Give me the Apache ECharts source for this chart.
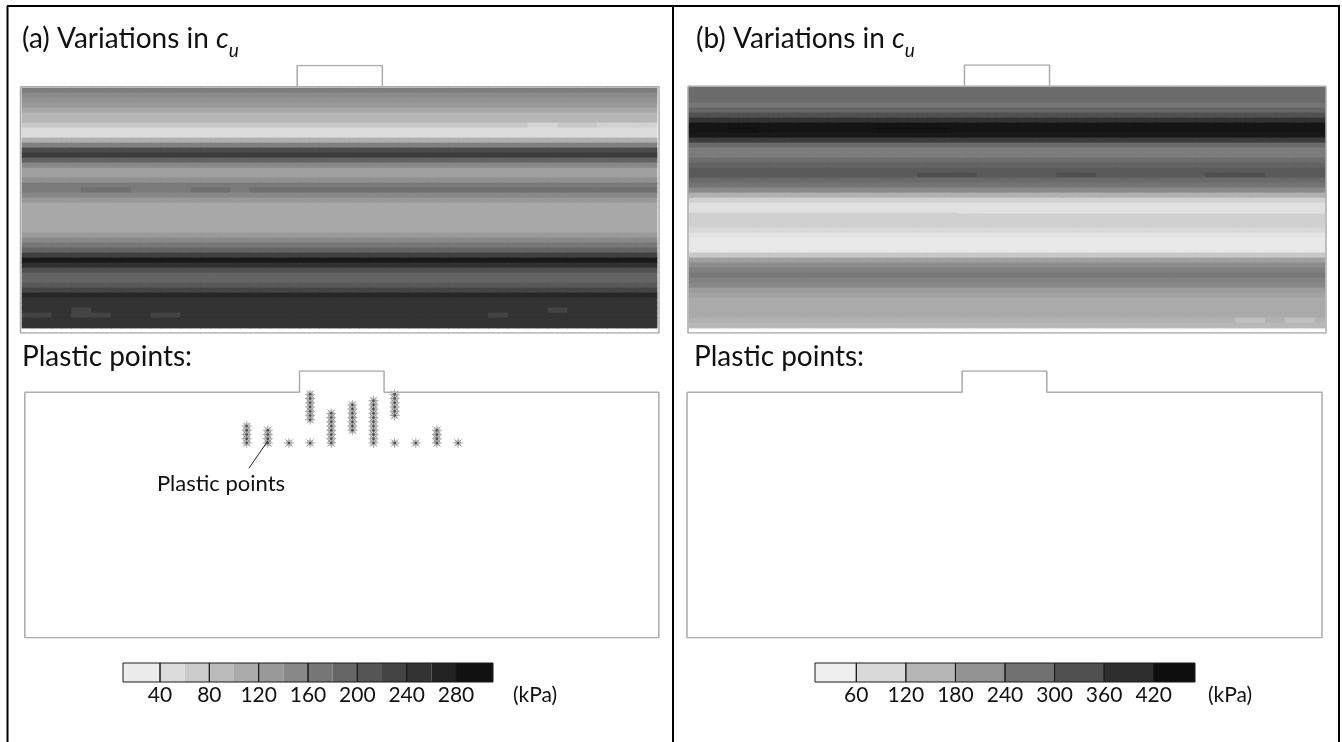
<!DOCTYPE html>
<html lang="en">
<head>
<meta charset="UTF-8">
<title>Variations in cu and plastic points</title>
<script src="https://cdn.jsdelivr.net/npm/echarts@6/dist/echarts.min.js"></script>
<style>
  html, body { margin: 0; padding: 0; background: #fff; }
  #chart { width: 1342px; height: 742px; }
</style>
</head>
<body>
<div id="chart"></div>
<script>
// cu (kPa) down the soil, one value per row (48 rows, top to bottom)
const cuRowsA = [163, 144, 135, 122, 103, 84, 84, 59, 32, 32, 92, 158, 231, 251, 196, 147,
                 114, 114, 136, 166, 166, 147, 125, 103, 103, 103, 103, 103, 103, 122, 144, 169,
                 196, 246, 300, 268, 224, 196, 196, 213, 240, 281, 263, 263, 263, 263, 263, 263];
const cuRowsB = [275, 275, 275, 257, 286, 327, 383, 439, 439, 431, 365, 279, 246, 246, 272, 290,
                 309, 309, 279, 260, 220, 149, 90, 60, 60, 90, 90, 90, 75, 52, 45, 45,
                 45, 104, 179, 216, 238, 253, 234, 223, 186, 175, 160, 160, 160, 160, 145, 134];
const nCols = 64;

// local irregularities: [row, first column, last column, cu]
const patchesA = [
  [20, 6, 10, 180], [20, 17, 20, 180], [20, 23, 63, 180],
  [7, 58, 63, 45], [7, 51, 53, 40],
  [45, 0, 2, 240], [45, 5, 8, 240], [44, 5, 6, 240], [45, 13, 15, 240],
  [45, 47, 48, 240], [44, 53, 54, 240]
];
const patchesB = [
  [17, 23, 28, 330], [17, 37, 40, 330], [17, 52, 57, 330],
  [8, 4, 6, 445], [8, 19, 25, 445],
  [46, 55, 57, 120], [46, 60, 62, 120]
];

// soil domain with footing, metres (x along surface, y up from ground)
const domainX = [0, 13, 13, 17, 17, 30, 30, 0, 0];
const domainY = [0, 0, 1, 1, 0, 0, -11.6, -11.6, 0];
// the cu plots also close the ground line under the footing
const footBaseX = [13, 17];
const footBaseY = [0, 0];

// plastic points of case (a): column positions and depths (m)
const plasticX = [10.5, 11.5, 12.5, 13.5, 14.5, 15.5, 16.5, 17.5, 18.5, 19.5, 20.5];
const plasticDepths = [
  [1.6, 1.8, 2.0, 2.2, 2.4],
  [1.8, 2.0, 2.2, 2.4],
  [2.4],
  [0.1, 0.3, 0.5, 0.7, 0.9, 1.1, 1.3, 2.4],
  [1.0, 1.2, 1.4, 1.6, 1.8, 2.0, 2.2, 2.4],
  [0.6, 0.8, 1.0, 1.2, 1.4, 1.6, 1.8],
  [0.4, 0.6, 0.8, 1.0, 1.2, 1.4, 1.6, 1.8, 2.0, 2.2, 2.4],
  [0.1, 0.3, 0.5, 0.7, 0.9, 1.1, 2.4],
  [2.4],
  [1.8, 2.0, 2.2, 2.4],
  [2.4]
];
// callout "Plastic points" leader, metres
const calloutX = [10.6, 11.5];
const calloutY = [-3.6, -2.3];

// colour scales
const breaksA = [10, 40, 60, 80, 100, 120, 140, 160, 180, 200, 220, 240, 260, 280, 310];
const ticksA = [40, 80, 120, 160, 200, 240, 280];
const breaksB = [10, 60, 120, 180, 240, 300, 360, 420, 470];
const ticksB = [60, 120, 180, 240, 300, 360, 420];
const greysA = ['#ececec', '#dcdcdc', '#cbcbcb', '#bbbbbb', '#aaaaaa', '#999999', '#888888',
                '#777777', '#666666', '#555555', '#444444', '#333333', '#222222', '#111111'];
const greysB = ['#f0f0f0', '#dadada', '#b5b5b5', '#939393', '#717171', '#505050', '#2e2e2e', '#0e0e0e'];

const FONT = 'Lato';

function buildField(rows, patches) {
  const grid = rows.map(v => new Array(nCols).fill(v));
  patches.forEach(([r, c0, c1, v]) => {
    for (let c = c0; c <= c1; c++) grid[r][c] = v;
  });
  const out = [];
  grid.forEach((row, r) => row.forEach((v, c) => out.push([c, r, v])));
  return out;
}

function zip(xs, ys) { return xs.map((x, i) => [x, ys[i]]); }

const plasticPts = [];
plasticX.forEach((x, i) => plasticDepths[i].forEach(d => plasticPts.push([x, -d])));

function pairs(b) {
  const out = [];
  for (let i = 0; i < b.length - 1; i++) out.push([b[i], b[i + 1]]);
  return out;
}

// heat cells drawn slightly oversized so no seams show between them
function fieldSeries(axis, data) {
  return {
    type: 'custom', xAxisIndex: axis, yAxisIndex: axis, silent: true,
    data: data, encode: { x: 0, y: 1 },
    renderItem: function (params, api) {
      const c = api.coord([api.value(0), api.value(1)]);
      const s = api.size([1, 1]);
      return {
        type: 'rect',
        shape: { x: c[0] - s[0] / 2 - 0.4, y: c[1] - s[1] / 2 - 0.4, width: s[0] + 0.8, height: s[1] + 0.8 },
        style: { fill: api.visual('color') }
      };
    }
  };
}

function cellSeries(axis, ranges, fills, stroke) {
  return {
    type: 'custom', xAxisIndex: axis, yAxisIndex: axis, silent: true,
    data: ranges,
    renderItem: function (params, api) {
      const p0 = api.coord([api.value(0), 1]);
      const p1 = api.coord([api.value(1), 0]);
      return {
        type: 'rect',
        shape: { x: p0[0], y: p0[1], width: p1[0] - p0[0], height: p1[1] - p0[1] },
        style: fills
          ? { fill: fills[params.dataIndex], stroke: null }
          : { fill: null, stroke: stroke, lineWidth: 1 }
      };
    }
  };
}

const rowsCat = cuRowsA.map((_, i) => i);
const colsCat = Array.from({ length: nCols }, (_, i) => i);

const grids = [
  { left: 22, top: 88, width: 635, height: 240 },      // heat a
  { left: 689, top: 88, width: 636, height: 240 },     // heat b
  { left: 20.5, top: 65.5, width: 638.5, height: 267.5 }, // outline a top
  { left: 688, top: 65, width: 638, height: 268 },     // outline b top
  { left: 24.8, top: 371, width: 634, height: 266.7 }, // plastic a
  { left: 687, top: 371, width: 635, height: 266.7 },  // plastic b
  { left: 123, top: 663, width: 370, height: 19 },     // colour bar a
  { left: 815, top: 663, width: 380, height: 19 }      // colour bar b
];

const hidden = { show: false };
const barLabel = { fontSize: 21, fontFamily: FONT, color: '#111', margin: 3 };
const xAxes = [
  { type: 'category', gridIndex: 0, data: colsCat, show: false },
  { type: 'category', gridIndex: 1, data: colsCat, show: false },
  { type: 'value', gridIndex: 2, min: 0, max: 30, show: false },
  { type: 'value', gridIndex: 3, min: 0, max: 30, show: false },
  { type: 'value', gridIndex: 4, min: 0, max: 30, show: false },
  { type: 'value', gridIndex: 5, min: 0, max: 30, show: false },
  {
    type: 'value', gridIndex: 6, min: breaksA[0], max: breaksA[breaksA.length - 1],
    axisLine: hidden, axisTick: hidden, splitLine: hidden,
    axisLabel: Object.assign({ customValues: ticksA }, barLabel)
  },
  {
    type: 'value', gridIndex: 7, min: breaksB[0], max: breaksB[breaksB.length - 1],
    axisLine: hidden, axisTick: hidden, splitLine: hidden,
    axisLabel: Object.assign({ customValues: ticksB }, barLabel)
  }
];
const yAxes = [
  { type: 'category', gridIndex: 0, data: rowsCat, inverse: true, show: false },
  { type: 'category', gridIndex: 1, data: rowsCat, inverse: true, show: false },
  { type: 'value', gridIndex: 2, min: -11.6, max: 1, show: false },
  { type: 'value', gridIndex: 3, min: -11.6, max: 1, show: false },
  { type: 'value', gridIndex: 4, min: -11.6, max: 1, show: false },
  { type: 'value', gridIndex: 5, min: -11.6, max: 1, show: false },
  { type: 'value', gridIndex: 6, min: 0, max: 1, show: false },
  { type: 'value', gridIndex: 7, min: 0, max: 1, show: false }
];

const outlineStyle = { color: '#ababab', width: 1.5 };
const lineOn = (i, xs, ys) => ({
  type: 'line', xAxisIndex: i, yAxisIndex: i, data: zip(xs, ys),
  showSymbol: false, silent: true, lineStyle: outlineStyle
});

const asterisk = 'path://M5,0L5,10M0,5L10,5M1.2,1.2L8.8,8.8M1.2,8.8L8.8,1.2';

const series = [
  fieldSeries(0, buildField(cuRowsA, patchesA)),
  fieldSeries(1, buildField(cuRowsB, patchesB)),
  lineOn(2, domainX, domainY), lineOn(2, footBaseX, footBaseY),
  lineOn(3, domainX, domainY), lineOn(3, footBaseX, footBaseY),
  lineOn(4, domainX, domainY), lineOn(5, domainX, domainY),
  {
    type: 'scatter', xAxisIndex: 4, yAxisIndex: 4, data: plasticPts, silent: true,
    symbol: 'rect', symbolSize: [6, 6],
    itemStyle: { color: '#c4c4c4' }
  },
  {
    type: 'scatter', xAxisIndex: 4, yAxisIndex: 4, data: plasticPts, silent: true,
    symbol: asterisk, symbolSize: [10, 10],
    itemStyle: { color: 'rgba(0,0,0,0)', borderColor: '#8c8c8c', borderWidth: 0.9 }
  },
  {
    type: 'scatter', xAxisIndex: 4, yAxisIndex: 4, data: plasticPts, silent: true,
    symbol: 'circle', symbolSize: 2.5, itemStyle: { color: '#3a3a3a' }
  },
  {
    type: 'line', xAxisIndex: 4, yAxisIndex: 4, data: zip(calloutX, calloutY),
    showSymbol: false, silent: true, lineStyle: { color: '#222', width: 1 }
  },
  cellSeries(6, pairs(breaksA), greysA),
  cellSeries(6, pairs([breaksA[0]].concat(ticksA, [breaksA[breaksA.length - 1]])), null, '#1a1a1a'),
  cellSeries(7, pairs(breaksB), greysB),
  cellSeries(7, pairs(breaksB), null, '#1a1a1a')
];

function titleText(x, label) {
  const base = { fontSize: 28, fontFamily: FONT, lineHeight: 34, verticalAlign: 'top', fill: '#111' };
  return {
    type: 'text', x: x, y: 25,
    style: {
      text: '{t|' + label + ' Variations in }{c|c}{u|u}',
      verticalAlign: 'top',
      rich: {
        t: base,
        c: Object.assign({}, base, { fontStyle: 'italic' }),
        u: { fontSize: 19, fontFamily: FONT, fontStyle: 'italic', lineHeight: 19,
             padding: [16, 0, 0, 0], verticalAlign: 'top', fill: '#111' }
      }
    }
  };
}

function plainText(x, y, text, size, align) {
  return {
    type: 'text', x: x, y: y,
    style: { text: text, fontSize: size, fontFamily: FONT, fill: '#111',
             align: align || 'left', verticalAlign: 'middle' }
  };
}

const frame = { stroke: '#000', lineWidth: 2 };
const graphic = [
  { type: 'line', shape: { x1: 7, y1: 6, x2: 1340, y2: 6 }, style: frame },
  { type: 'line', shape: { x1: 7.5, y1: 6, x2: 7.5, y2: 742 }, style: frame },
  { type: 'line', shape: { x1: 673, y1: 6, x2: 673, y2: 742 }, style: frame },
  { type: 'line', shape: { x1: 1339, y1: 6, x2: 1339, y2: 742 }, style: frame },
  titleText(22, '(a)'),
  titleText(696, '(b)'),
  plainText(22, 357, 'Plastic points:', 28),
  plainText(694, 357, 'Plastic points:', 28),
  plainText(221, 484, 'Plastic points', 22, 'center'),
  plainText(513, 695, '(kPa)', 21),
  plainText(1208, 695, '(kPa)', 21)
];

const chart = echarts.init(document.getElementById('chart'));
chart.setOption({
  animation: false,
  backgroundColor: '#fff',
  grid: grids,
  xAxis: xAxes,
  yAxis: yAxes,
  visualMap: [
    { type: 'continuous', seriesIndex: 0, dimension: 2, min: 10, max: 310, show: false,
      inRange: { color: ['#ececec', '#111111'] } },
    { type: 'continuous', seriesIndex: 1, dimension: 2, min: 30, max: 450, show: false,
      inRange: { color: ['#f0f0f0', '#0e0e0e'] } }
  ],
  series: series,
  graphic: graphic
});
</script>
</body>
</html>
